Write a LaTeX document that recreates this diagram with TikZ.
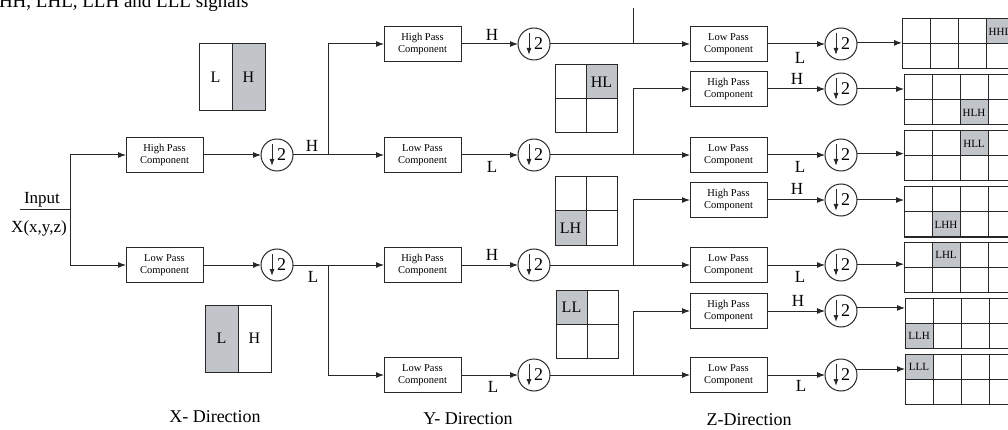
\documentclass[tikz,border=0pt]{standalone}
\usepackage{fontspec}
\setmainfont{Liberation Serif}
\usetikzlibrary{arrows.meta,calc}
\definecolor{cellgray}{RGB}{193,196,201}
\definecolor{ink}{RGB}{40,40,40}
\begin{document}
\begin{tikzpicture}[x=1pt,y=-1pt,
  every node/.style={inner sep=0pt, outer sep=0pt},
  filt/.style={draw=ink, line width=1pt, minimum width=77pt, minimum height=35pt, align=center, font=\fontsize{10.5}{12.5}\selectfont},
  dwn/.style={draw=ink, circle, line width=1pt, minimum size=32pt, font=\fontsize{18}{18}\selectfont,
    path picture={\draw[ink, line width=1pt, -{Latex[length=7pt,width=5pt]}] ($(path picture bounding box.center)+(-5,-11)$) -- ($(path picture bounding box.center)+(-5,11)$);}},
  conn/.style={draw=ink, line width=1pt},
  arr/.style={conn, -{Latex[length=8pt,width=6pt]}},
  lbl/.style={font=\fontsize{17}{17}\selectfont},
  qlbl/.style={font=\fontsize{16}{16}\selectfont},
  glbl/.style={font=\fontsize{11}{11}\selectfont},
  dirlbl/.style={font=\fontsize{18}{18}\selectfont},
  frame/.style={draw=ink, line width=1pt},
  cell/.style={fill=cellgray}]
\path[use as bounding box, clip] (0,0) rectangle (1008,430);

% title (cut off at top)
\node[anchor=base west, font=\fontsize{19}{19}\selectfont] (title) at (-1,8) {HH, LHL, LLH and LLL signals};

% input
\node[anchor=base, lbl] (inlbl) at (42,204) {Input};
\node[anchor=base, lbl] (xlbl) at (39,233) {X(x,y,z)};
\coordinate (in0) at (20,210);
\coordinate (in1) at (70,210);

% X direction
\node[filt] (hp1) at (164.5,155) {High Pass\\Component};
\node[filt] (lp1) at (164.5,265) {Low Pass\\Component};
\node[dwn] (d1) at (277,155) {\phantom{2}2};
\node[dwn] (d2) at (277,265) {\phantom{2}2};
\coordinate (j1) at (328,155);
\coordinate (j2) at (328,265);

% Y direction
\node[filt] (hp2) at (422.5,44) {High Pass\\Component};
\node[filt] (lp2) at (422.5,155) {Low Pass\\Component};
\node[filt] (hp3) at (422.5,265) {High Pass\\Component};
\node[filt] (lp3) at (422.5,375) {Low Pass\\Component};
\node[dwn] (q1) at (534,44) {\phantom{2}2};
\node[dwn] (q2) at (534,155) {\phantom{2}2};
\node[dwn] (q3) at (534,265) {\phantom{2}2};
\node[dwn] (q4) at (534,375) {\phantom{2}2};
\coordinate (k0) at (633,8);
\coordinate (k1) at (633,44);
\coordinate (k2) at (633,155);
\coordinate (k3) at (633,265);
\coordinate (k4) at (633,375);

% Z direction
\node[filt] (r1) at (728.5,44) {Low Pass\\Component};
\node[filt] (r2) at (728.5,89) {High Pass\\Component};
\node[filt] (r3) at (728.5,155) {Low Pass\\Component};
\node[filt] (r4) at (728.5,200) {High Pass\\Component};
\node[filt] (r5) at (728.5,265) {Low Pass\\Component};
\node[filt] (r6) at (728.5,311) {High Pass\\Component};
\node[filt] (r7) at (728.5,375) {Low Pass\\Component};
\foreach \i/\yy in {1/44,2/89,3/155,4/200,5/265,6/311,7/375}
  \node[dwn] (s\i) at (841,\yy) {\phantom{2}2};

% output grids
\foreach \n/\gx/\gy/\c/\r/\t in {1/902/19/4/1/HHL,2/904/75/3/2/HLH,3/904/131/3/1/HLL,4/904/187/2/2/LHH,5/904/242/2/1/LHL,6/905/298/1/2/LLH,7/905/354/1/1/LLL}{
  \path[cell] (\gx+28*\c-28,\gy+25*\r-25) rectangle ++(28,25);
  \node[frame, minimum width=140pt, minimum height=50pt, anchor=north west] (g\n) at (\gx,\gy) {};
  \draw[frame] (\gx,\gy+25) -- ++(140,0);
  \foreach \k in {1,...,4} \draw[frame] (\gx+28*\k,\gy) -- ++(0,50);
  \node[glbl] (gl\n) at (\gx+28*\c-14,\gy+25*\r-12.5) {\t};
}

% quadrant sketches
\path[cell] (232,44) rectangle (265,111);
\draw[frame] (199,44) rectangle (265,111) (232,44) -- (232,111);
\node[qlbl] (qa1) at (215.5,77.5) {L};
\node[qlbl] (qa2) at (248.5,77.5) {H};

\path[cell] (205,305) rectangle (238,372);
\draw[frame] (205,305) rectangle (271,372) (238,305) -- (238,372);
\node[qlbl] (qb1) at (221.5,338.5) {L};
\node[qlbl] (qb2) at (254.5,338.5) {H};

\path[cell] (586,65) rectangle (617,99);
\draw[frame] (555,65) rectangle (617,133) (586,65) -- (586,133) (555,99) -- (617,99);
\node[qlbl] (qc) at (601.5,82) {HL};

\path[cell] (555,211) rectangle (586,245);
\draw[frame] (555,177) rectangle (617,245) (586,177) -- (586,245) (555,211) -- (617,211);
\node[qlbl] (qd) at (570.5,228) {LH};

\path[cell] (556,290) rectangle (587,324);
\draw[frame] (556,290) rectangle (618,358) (587,290) -- (587,358) (556,324) -- (618,324);
\node[qlbl] (qe) at (571.5,307) {LL};

% connectors: X direction
\draw[conn] (in0) -- (in1);
\draw[arr] (in1) |- (hp1.west);
\draw[arr] (in1) |- (lp1.west);
\draw[arr] (hp1) -- (d1);
\draw[arr] (lp1) -- (d2);
\draw[conn] (d1) -- (j1);
\draw[conn] (d2) -- (j2);
\draw[arr] (j1) |- (hp2.west);
\draw[arr] (j1) -- (lp2);
\draw[arr] (j2) -- (hp3);
\draw[arr] (j2) |- (lp3.west);

% Y direction
\draw[arr] (hp2) -- (q1);
\draw[arr] (lp2) -- (q2);
\draw[arr] (hp3) -- (q3);
\draw[arr] (lp3) -- (q4);
\draw[conn] (q1) -- (k1);
\draw[conn] (k0) -- (k1);
\draw[arr] (k1) -- (r1);
\draw[conn] (q2) -- (k2);
\draw[arr] (k2) |- (r2.west);
\draw[arr] (k2) -- (r3);
\draw[conn] (q3) -- (k3);
\draw[arr] (k3) |- (r4.west);
\draw[arr] (k3) -- (r5);
\draw[conn] (q4) -- (k4);
\draw[arr] (k4) |- (r6.west);
\draw[arr] (k4) -- (r7);

% Z direction
\foreach \i in {1,...,7} \draw[arr] (r\i) -- (s\i);
\foreach \i/\a in {1/4,2/0,3/5,4/0,5/3,6/11,7/22}
  \draw[arr] (s\i.\a) -- (s\i.\a -| g\i.west);

% line labels
\node[lbl] (la1) at (312,146) {H};
\node[lbl] (la2) at (313,277) {L};
\node[lbl] (lb1) at (492,35) {H};
\node[lbl] (lb2) at (492,167) {L};
\node[lbl] (lb3) at (492,255) {H};
\node[lbl] (lb4) at (493,387) {L};
\node[lbl] (lc1) at (800,58) {L};
\node[lbl] (lc2) at (797,79) {H};
\node[lbl] (lc3) at (800,167) {L};
\node[lbl] (lc4) at (797,189) {H};
\node[lbl] (lc5) at (800,277) {L};
\node[lbl] (lc6) at (798,301) {H};
\node[lbl] (lc7) at (801,386) {L};

% direction captions
\node[dirlbl] (dx) at (215,417) {X- Direction};
\node[dirlbl] (dy) at (468,419) {Y- Direction};
\node[dirlbl] (dz) at (749,420) {Z-Direction};
\end{tikzpicture}
\end{document}
